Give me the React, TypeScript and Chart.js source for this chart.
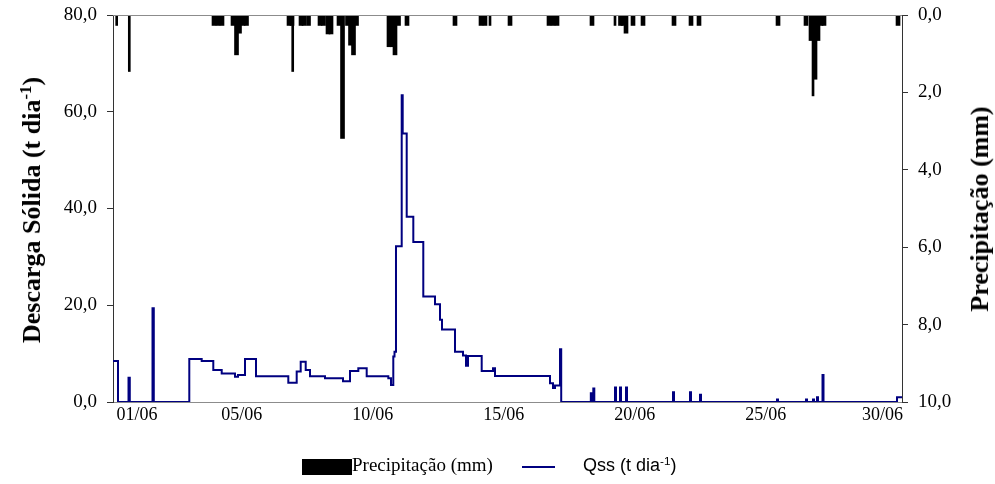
import React, { useEffect, useRef } from "react";
import { Chart, registerables } from "chart.js";

Chart.register(...registerables);

// x positions: days after 01/06 00:00 along the time axis
const qssDays = [-0.916, -0.725, -0.324, -0.275, 0.592, 0.641, 1.996, 2.469, 2.912, 3.233, 3.74, 3.855, 4.122, 4.542, 5.775, 6.095, 6.248, 6.439, 6.603, 7.176, 7.863, 8.13, 8.447, 8.767, 9.592, 9.695, 9.782, 9.828, 9.885, 10.103, 10.141, 10.294, 10.546, 10.927, 11.374, 11.565, 11.641, 12.137, 12.443, 12.557, 12.634, 13.156, 13.588, 13.664, 15.763, 15.878, 15.954, 16.145, 16.191, 17.321, 17.359, 17.416, 17.454, 18.244, 18.282, 18.435, 18.473, 18.664, 18.702, 20.458, 20.496, 21.107, 21.145, 21.489, 21.527, 24.427, 24.466, 25.534, 25.573, 25.802, 25.84, 25.954, 25.992, 26.164, 26.202, 29.008, 29.198];
// Qss (t dia-1), each value holds until the next point
const qssValues = [8.5, 0, 5.0, 0, 19.4, 0, 8.9, 8.5, 6.6, 5.9, 5.2, 5.6, 8.9, 5.3, 4.0, 6.3, 8.3, 6.6, 5.3, 4.9, 4.3, 6.4, 7.0, 5.3, 4.9, 3.5, 9.4, 10.4, 32.2, 63.4, 55.5, 38.3, 33.1, 21.8, 20.2, 17.0, 15.0, 10.4, 9.6, 7.5, 9.5, 6.4, 7.0, 5.4, 3.9, 2.9, 3.4, 10.9, 0, 1.8, 0, 2.8, 0, 3.0, 0, 3.0, 0, 3.0, 0, 2.0, 0, 2.0, 0, 1.5, 0, 0.5, 0, 0.5, 0, 0.5, 0, 1.0, 0, 5.6, 0, 1.0, 1.0];

// Precipitação (mm) - short events
const rainThinDays = [-0.775, -0.294, 5.943, 13.473, 18.244, 25.802];
const rainThinMm = [0.27, 1.46, 1.46, 0.27, 0.27, 2.09];
const rainDays = [2.939, 3.092, 3.244, 3.664, 3.798, 3.912, 4.046, 4.179, 5.802, 5.916, 6.26, 6.374, 6.546, 6.985, 7.118, 7.29, 7.405, 7.71, 7.844, 8.034, 8.149, 8.263, 8.378, 9.618, 9.733, 9.847, 9.981, 10.305, 12.137, 13.13, 13.282, 14.237, 15.725, 15.878, 16.031, 17.366, 18.454, 18.55, 18.664, 18.931, 19.313, 20.496, 21.145, 21.45, 24.466, 25.534, 25.725, 25.878, 25.992, 26.107, 26.221, 29.046];
const rainMm = [0.27, 0.27, 0.27, 0.27, 1.03, 0.47, 0.27, 0.27, 0.27, 0.27, 0.27, 0.27, 0.27, 0.27, 0.27, 0.49, 0.49, 0.27, 3.19, 0.27, 0.78, 1.03, 0.27, 0.82, 0.82, 1.03, 0.27, 0.27, 0.27, 0.27, 0.27, 0.27, 0.27, 0.27, 0.27, 0.27, 0.27, 0.27, 0.47, 0.27, 0.27, 0.27, 0.27, 0.27, 0.27, 0.27, 0.66, 1.66, 0.66, 0.27, 0.27, 0.27];

const xMin = -0.916;
const xMax = 29.198;
const xTickValues = [0, 4, 9, 14, 19, 24, 28.45];
const xTickLabels = ["01/06", "05/06", "10/06", "15/06", "20/06", "25/06", "30/06"];
const leftTicks = [0, 20, 40, 60, 80];
const rightTicks = [0, 2, 4, 6, 8, 10];

const SERIF = "'Liberation Serif', 'Times New Roman', serif";
const SANS = "'Liberation Sans', Arial, sans-serif";
const NAVY = "#000080";
const fmt = (v: number) => Number(v).toFixed(1).replace(".", ",");

const topLine = {
  id: "topLine",
  afterDraw(chart: any) {
    const { ctx, chartArea } = chart;
    ctx.save();
    ctx.strokeStyle = "#8c8c8c";
    ctx.lineWidth = 1;
    ctx.beginPath();
    ctx.moveTo(chartArea.left, chartArea.top + 0.5);
    ctx.lineTo(chartArea.right, chartArea.top + 0.5);
    ctx.stroke();
    ctx.restore();
  },
};

export default function App() {
  const ref = useRef<HTMLCanvasElement | null>(null);

  useEffect(() => {
    if (!ref.current) return;
    const chart = new Chart(ref.current, {
      type: "bar",
      data: {
        datasets: [
          {
            type: "line",
            label: "Qss (t dia-1)",
            data: qssDays.map((d, i) => ({ x: d, y: qssValues[i] })),
            yAxisID: "y",
            borderColor: NAVY,
            backgroundColor: NAVY,
            borderWidth: 2,
            pointRadius: 0,
            stepped: "before",
            fill: false,
            order: 0,
          } as any,
          {
            type: "bar",
            label: "Precipitação (mm)",
            data: rainDays.map((d, i) => ({ x: d, y: rainMm[i] })),
            yAxisID: "y1",
            backgroundColor: "#000000",
            barThickness: 4,
            grouped: false,
            order: 1,
          } as any,
          {
            type: "bar",
            label: "Precipitação (mm) ",
            data: rainThinDays.map((d, i) => ({ x: d, y: rainThinMm[i] })),
            yAxisID: "y1",
            backgroundColor: "#000000",
            barThickness: 2,
            grouped: false,
            order: 1,
          } as any,
        ],
      },
      options: {
        animation: false,
        responsive: false,
        maintainAspectRatio: false,
        layout: { padding: { top: 15, left: 0, right: 0, bottom: 0 } },
        plugins: { legend: { display: false }, tooltip: { enabled: false } },
        scales: {
          x: {
            type: "linear",
            min: xMin,
            max: xMax,
            offset: false,
            afterBuildTicks: (s: any) => {
              s.ticks = xTickValues.map((v) => ({ value: v }));
            },
            afterFit: (s: any) => {
              s.height = 82;
              s.paddingLeft = 0;
              s.paddingRight = 0;
            },
            ticks: {
              autoSkip: false,
              maxRotation: 0,
              padding: 2,
              color: "#000",
              font: { family: SERIF, size: 18 },
              callback: (_v: any, i: number) => xTickLabels[i],
            },
            grid: { display: true, drawOnChartArea: false, drawTicks: false },
            border: { display: true, color: "#8c8c8c", width: 1 },
          },
          y: {
            position: "left",
            min: 0,
            max: 80,
            afterBuildTicks: (s: any) => {
              s.ticks = leftTicks.map((v) => ({ value: v }));
            },
            afterFit: (s: any) => {
              s.width = 113;
              s.paddingTop = 0;
              s.paddingBottom = 0;
            },
            ticks: {
              padding: 10,
              color: "#000",
              font: { family: SERIF, size: 19 },
              callback: (v: any) => fmt(v),
            },
            grid: { drawOnChartArea: false, drawTicks: true, tickLength: 6, color: "#333333" },
            border: { display: true, color: "#333333", width: 1 },
          },
          y1: {
            position: "right",
            reverse: true,
            min: 0,
            max: 10,
            afterBuildTicks: (s: any) => {
              s.ticks = rightTicks.map((v) => ({ value: v }));
            },
            afterFit: (s: any) => {
              s.width = 93;
              s.paddingTop = 0;
              s.paddingBottom = 0;
            },
            ticks: {
              padding: 10,
              color: "#000",
              font: { family: SERIF, size: 19 },
              callback: (v: any) => fmt(v),
            },
            grid: { drawOnChartArea: false, drawTicks: true, tickLength: 6, color: "#333333" },
            border: { display: true, color: "#333333", width: 1 },
          },
        },
      } as any,
      plugins: [topLine],
    });
    return () => chart.destroy();
  }, []);

  const titleStyle: React.CSSProperties = {
    position: "absolute",
    transform: "translate(-50%, -50%) rotate(-90deg)",
    whiteSpace: "nowrap",
    fontFamily: SERIF,
    fontWeight: "bold",
    fontSize: 26,
    lineHeight: "26px",
    color: "#000",
  };

  return (
    <div style={{ position: "fixed", left: 0, top: 0, width: 995, height: 484, background: "#fff", overflow: "hidden" }}>
      <canvas ref={ref} width={995} height={484} style={{ position: "absolute", left: 0, top: 0, width: 995, height: 484 }} />
      <div style={{ ...titleStyle, left: 32, top: 210 }}>
        Descarga Sólida (t dia<sup style={{ fontSize: "0.65em", verticalAlign: "0.55em", lineHeight: 0 }}>-1</sup>)
      </div>
      <div style={{ ...titleStyle, left: 980, top: 209 }}>Precipitação (mm)</div>
      <div style={{ position: "absolute", left: 302, top: 459, width: 50, height: 16, background: "#000" }} />
      <div style={{ position: "absolute", left: 352, top: 455, fontFamily: SERIF, fontSize: 19, lineHeight: "20px", whiteSpace: "nowrap", color: "#000" }}>
        Precipitação (mm)
      </div>
      <div style={{ position: "absolute", left: 522, top: 466, width: 33, height: 2, background: NAVY }} />
      <div style={{ position: "absolute", left: 583, top: 455, fontFamily: SANS, fontSize: 18, lineHeight: "20px", whiteSpace: "nowrap", color: "#000" }}>
        Qss (t dia<sup style={{ fontSize: "0.65em", verticalAlign: "0.55em", lineHeight: 0 }}>-1</sup>)
      </div>
    </div>
  );
}
